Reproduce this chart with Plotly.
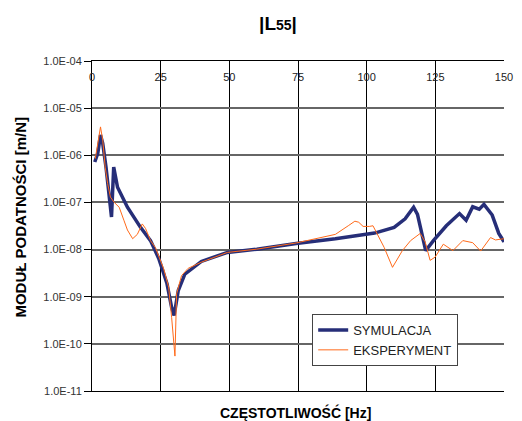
import plotly.graph_objects as go

# SYMULACJA
sim_f = [1.0, 2.1, 3.1, 3.9, 5.1, 6.3, 7.1, 7.9, 9.3, 12.9, 17.6, 21.3, 24.3, 27.3, 29.0, 29.9,
         31.4, 33.8, 39.8, 49.3, 60, 74.3, 88.6, 102.9, 110, 114, 117.1, 118.5, 121.5, 124.3,
         129, 133.8, 136.2, 138.6, 141, 142.7, 145.7, 148.1, 150]
sim_v = [7.2e-7, 1.1e-6, 2.7e-6, 1.8e-6, 5.6e-7, 1.55e-7, 4.9e-8, 5.6e-7, 2.1e-7, 7.9e-8, 3.0e-8,
         1.55e-8, 6.5e-9, 1.9e-9, 5.9e-10, 4.0e-10, 1.35e-9, 3.0e-9, 5.6e-9, 8.7e-9, 1.02e-8,
         1.35e-8, 1.7e-8, 2.24e-8, 2.95e-8, 4.5e-8, 7.9e-8, 5.6e-8, 9.5e-9, 1.55e-8, 3.2e-8,
         5.8e-8, 4.2e-8, 8.1e-8, 7.2e-8, 9.1e-8, 5.4e-8, 2.2e-8, 1.45e-8]

# EKSPERYMENT
exp_f = [1.2, 2.1, 3.1, 3.9, 4.8, 5.7, 6.7, 8.1, 9.9, 11.6, 12.9, 14.8, 16.5, 18.3, 19.5, 21.3,
         23.1, 26.1, 27.9, 29.0, 30.0, 30.2, 30.8, 32.6, 35, 39.8, 49.3, 60, 74.3, 81.4, 88.6,
         93.3, 95.7, 97.1, 98.7, 101, 102.3, 106.4, 109.4, 113, 116, 119.5, 121.3, 123.1, 124.9,
         127.9, 131.4, 135, 138.6, 141.5, 145.1, 146.9, 150]
exp_v = [8.5e-7, 1.95e-6, 4.0e-6, 2.1e-6, 5.6e-7, 2.5e-7, 1.3e-7, 1.0e-7, 7.9e-8, 4.2e-8, 2.6e-8,
         1.7e-8, 2.1e-8, 3.5e-8, 2.8e-8, 1.55e-8, 1.1e-8, 3.9e-9, 1.6e-9, 3.6e-10, 8.3e-11,
         5.5e-11, 1.15e-9, 2.8e-9, 4.0e-9, 5.4e-9, 8.7e-9, 1.02e-8, 1.38e-8, 1.7e-8, 2.1e-8,
         3.2e-8, 4.0e-8, 3.8e-8, 3.1e-8, 3.1e-8, 3.2e-8, 1.1e-8, 4.2e-9, 9.5e-9, 1.55e-8, 2.2e-8,
         1.45e-8, 5.9e-9, 6.9e-9, 1.3e-8, 9.5e-9, 1.55e-8, 1.4e-8, 9.3e-9, 1.8e-8, 1.6e-8, 1.7e-8]

x_ticks = [0, 25, 50, 75, 100, 125, 150]
y_ticks = [1e-4, 1e-5, 1e-6, 1e-7, 1e-8, 1e-9, 1e-10, 1e-11]
y_labels = ["1.0E-04", "1.0E-05", "1.0E-06", "1.0E-07", "1.0E-08", "1.0E-09", "1.0E-10", "1.0E-11"]

FONT = "Liberation Sans, Arial, sans-serif"
W, H = 522, 421
L, R, T, B = 92, 9, 61, 30
PW, PH = W - L - R, H - T - B

fig = go.Figure()
fig.add_trace(go.Scatter(x=sim_f, y=sim_v, mode="lines", name="SYMULACJA",
                         line=dict(color="#262E78", width=3.5)))
fig.add_trace(go.Scatter(x=exp_f, y=exp_v, mode="lines", name="EKSPERYMENT",
                         line=dict(color="#FF6A1A", width=1)))

fig.update_layout(
    width=W, height=H,
    margin=dict(l=L, r=R, t=T, b=B),
    paper_bgcolor="white", plot_bgcolor="white",
    font=dict(family=FONT, size=11, color="#333333"),
    title=dict(text="<b>|L<span style='font-size:14px'>55</span>|</b>",
               x=278/W, xanchor="center", xref="container",
               y=1 - 23/H, yanchor="middle", yref="container",
               font=dict(family=FONT, size=19, color="#000000")),
    showlegend=True,
    legend=dict(x=(317-L)/PW, y=(H-B-314)/PH, xanchor="left", yanchor="top",
                bgcolor="white", bordercolor="#444444", borderwidth=1,
                font=dict(family=FONT, size=13, color="#222222"),
                tracegroupgap=0, itemwidth=30),
    xaxis=dict(range=[0, 150], side="top", tickvals=x_ticks,
               ticktext=[str(v) for v in x_ticks],
               ticklabelposition="inside", ticklabeloverflow="allow",
               ticklabelstandoff=12, ticks="",
               showgrid=True, gridcolor="#000000", gridwidth=1,
               showline=True, linecolor="#000000", linewidth=1, mirror=True,
               zeroline=False, tickfont=dict(size=11, color="#222222")),
    yaxis=dict(type="log", range=[-11, -4], tickvals=y_ticks, ticktext=y_labels,
               ticks="outside", ticklen=7, tickcolor="#000000",
               showgrid=True, gridcolor="#666666", gridwidth=1.5,
               showline=True, linecolor="#000000", linewidth=1,
               zeroline=False, tickfont=dict(size=11, color="#333333")),
    annotations=[
        dict(text="<b>CZĘSTOTLIWOŚĆ [Hz]</b>", xref="paper", yref="paper",
             x=(300-L)/PW, y=-(412-(H-B))/PH, xanchor="center", yanchor="middle",
             showarrow=False, font=dict(family=FONT, size=14, color="#000000")),
        dict(text="<b>MODUŁ PODATNOŚCI [m/N]</b>", xref="paper", yref="paper",
             x=(18-L)/PW, y=(H-B-217)/PH, xanchor="center", yanchor="middle",
             textangle=-90, showarrow=False,
             font=dict(family=FONT, size=15, color="#000000")),
    ],
)

fig.write_html("out.html", config={"displayModeBar": False},
               post_script="document.body.style.margin='0';")
